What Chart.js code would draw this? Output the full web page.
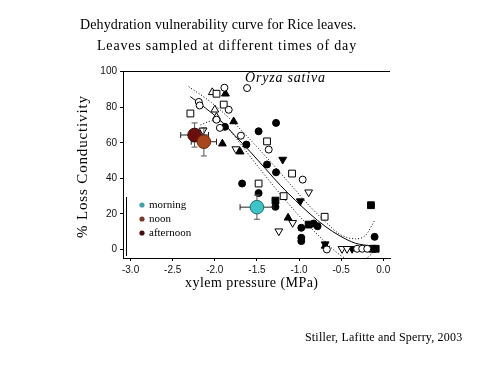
<!DOCTYPE html>
<html><head><meta charset="utf-8">
<script src="https://cdn.jsdelivr.net/npm/chart.js@4/dist/chart.umd.min.js"></script>
<style>html,body{margin:0;padding:0;background:#fff;}canvas{display:block;}</style>
</head><body>
<canvas id="c" width="501" height="366"></canvas>
<script>
// ---- data ----
const xTicks = [-3.0, -2.5, -2.0, -1.5, -1.0, -0.5, 0.0];
const yTicks = [0, 20, 40, 60, 80, 100];

const openCircleX = [-1.886, -2.19, -2.18, -1.835, -1.98, -1.94, -1.69, -1.617, -1.36, -0.957, -0.67, -0.31, -0.25, -0.19];
const openCircleY = [91, 83, 81, 78.6, 73, 68.4, 64, 90.8, 56.2, 39.3, 0, 0.4, 0.4, 0.4];
const filledCircleX = [-1.88, -1.625, -1.273, -1.48, -1.38, -1.273, -1.676, -1.48, -1.28, -0.973, -0.973, -0.973, -0.826, -0.78, -0.103];
const filledCircleY = [69, 59, 71.2, 66.5, 47.8, 43.4, 37.1, 31.7, 24, 12.2, 6.6, 4.7, 14.6, 13.1, 7.1];
const openSquareX = [-1.98, -1.894, -2.29, -1.38, -1.083, -1.48, -1.183, -0.696];
const openSquareY = [87.6, 81.5, 76.5, 60.8, 42.7, 37.1, 30, 18.4];
const filledSquareX = [-1.28, -0.886, -0.146, -0.13, -0.09];
const filledSquareY = [27.5, 14, 24.9, 0.4, 0.4];
const openTriangleX = [-2.03, -2.00, -1.98];
const openTriangleY = [88.4, 78.6, 74.5];
const filledTriangleX = [-1.874, -1.776, -1.91, -1.70, -1.13, -0.69];
const filledTriangleY = [87.6, 72, 59.5, 55, 17.8, 2];
const openDownX = [-2.14, -1.75, -0.886, -1.076, -1.24, -0.49, -0.43];
const openDownY = [67, 56.5, 32.2, 15, 10.3, 0.4, 0.4];
const filledDownX = [-1.194, -0.985, -0.37, -0.69];
const filledDownY = [50.6, 27.2, 0.4, 3];

const times = ['morning', 'noon', 'afternoon'];
const meanX = [-1.50, -2.13, -2.24];
const meanY = [23.8, 60.6, 64.4];
const errX = [0.20, 0.15, 0.165];
const errY = [6.8, 8, 6.8];

const fitX = [-2.29, -2.11, -1.93, -1.76, -1.58, -1.40, -1.22, -1.04, -0.87, -0.69, -0.51, -0.33, -0.15];
const fitY = [86, 79.5, 72.5, 64, 55, 45.5, 36, 27.5, 20, 13, 7.5, 3.5, 2];
const upperX = [-2.31, -2.05, -1.81, -1.58, -1.34, -1.10, -0.87, -0.69, -0.51, -0.33, -0.21, -0.10];
const upperY = [91.6, 83, 73, 61.8, 49.4, 36.5, 24.2, 15.7, 8.4, 6, 8, 16.5];
const lowerX = [-2.17, -2.07, -1.99, -1.90, -1.81, -1.64, -1.46, -1.22, -0.98, -0.75, -0.57, -0.45, -0.30, -0.15, -0.10];
const lowerY = [70, 72, 72.5, 71, 66.3, 56, 45, 31, 18, 7, -1, -5, -7, -3, 0];

// ---- styles ----
const timeFill = {morning: '#3cc4c6', noon: '#a8471b', afternoon: '#6a0e0e'};
const timeBorder = {morning: '#1f6f72', noon: '#6b2a0e', afternoon: '#3a0505'};
const legendDot = {morning: '#3aa5ad', noon: '#7a3a25', afternoon: '#4a0c0c'};

const pts = (xs, ys) => xs.map((x, i) => ({x, y: ys[i]}));

function markerSet(xs, ys, style, filled, radius, rot) {
  return {data: pts(xs, ys), pointStyle: style, pointRadius: radius, pointRotation: rot || 0,
    backgroundColor: filled ? '#000' : '#fff', borderColor: '#000', borderWidth: 1, showLine: false, order: 5};
}
function curveSet(xs, ys, dotted) {
  return {data: pts(xs, ys), showLine: true, pointRadius: 0, borderColor: '#000', borderWidth: 1,
    borderDash: dotted ? [1, 2] : [], cubicInterpolationMode: 'monotone', tension: 0.4, fill: false, order: 10};
}
const drawOrder = {noon: 0, afternoon: 1, morning: 2};
const summarySets = times.map((t, i) => ({
  id: t, data: [{x: meanX[i], y: meanY[i]}], pointStyle: 'circle', pointRadius: 6.8,
  backgroundColor: timeFill[t], borderColor: timeBorder[t], borderWidth: 1, showLine: false, order: drawOrder[t]
}));

const datasets = [
  ...summarySets,
  markerSet(openCircleX, openCircleY, 'circle', false, 3.5),
  markerSet(filledCircleX, filledCircleY, 'circle', true, 3.5),
  markerSet(openSquareX, openSquareY, 'rect', false, 4.8),
  markerSet(filledSquareX, filledSquareY, 'rect', true, 4.8),
  markerSet(openTriangleX, openTriangleY, 'triangle', false, 4.5),
  markerSet(filledTriangleX, filledTriangleY, 'triangle', true, 4.5),
  markerSet(openDownX, openDownY, 'triangle', false, 4.5, 180),
  markerSet(filledDownX, filledDownY, 'triangle', true, 4.5, 180),
  curveSet(fitX, fitY, false),
  curveSet(upperX, upperY, true),
  curveSet(lowerX, lowerY, true)
];

const SERIF = '"Liberation Serif", "Times New Roman", serif';

function spacedText(ctx, text, x, y, width) {
  if ('letterSpacing' in ctx) ctx.letterSpacing = '0px';
  const w = ctx.measureText(text).width;
  if ('letterSpacing' in ctx) {
    const sp = (width - w) / (text.length - 1);
    ctx.letterSpacing = sp.toFixed(2) + 'px';
    ctx.fillText(text, x, y);
    ctx.letterSpacing = '0px';
  } else {
    ctx.save(); ctx.translate(x, y); ctx.scale(width / w, 1); ctx.fillText(text, 0, 0); ctx.restore();
  }
}

const errorBars = {
  id: 'errorBars',
  beforeDatasetDraw(chart, args) {
    const ds = chart.data.datasets[args.index];
    if (ds.id !== 'morning') return;
    const {ctx, scales: {x, y}} = chart;
    ctx.save();
    ctx.lineWidth = 1;
    times.forEach((t, i) => {
      const cx = x.getPixelForValue(meanX[i]), cy = y.getPixelForValue(meanY[i]);
      const x0 = x.getPixelForValue(meanX[i] - errX[i]), x1 = x.getPixelForValue(meanX[i] + errX[i]);
      const y0 = y.getPixelForValue(meanY[i] - errY[i]), y1 = y.getPixelForValue(meanY[i] + errY[i]);
      ctx.strokeStyle = '#222';
      ctx.beginPath();
      ctx.moveTo(x0, cy); ctx.lineTo(x1, cy);
      ctx.moveTo(x0, cy - 3); ctx.lineTo(x0, cy + 3);
      ctx.moveTo(x1, cy - 3); ctx.lineTo(x1, cy + 3);
      ctx.stroke();
      ctx.strokeStyle = '#555';
      ctx.beginPath();
      ctx.moveTo(cx, y0); ctx.lineTo(cx, y1);
      ctx.moveTo(cx - 3, y0); ctx.lineTo(cx + 3, y0);
      ctx.moveTo(cx - 3, y1); ctx.lineTo(cx + 3, y1);
      ctx.stroke();
    });
    ctx.restore();
  }
};

const decorations = {
  id: 'decorations',
  afterDraw(chart) {
    const {ctx, chartArea: a} = chart;
    ctx.save();
    // top frame line
    ctx.strokeStyle = '#000'; ctx.lineWidth = 1;
    ctx.beginPath(); ctx.moveTo(a.left, a.top + 0.5); ctx.lineTo(a.right, a.top + 0.5); ctx.stroke();
    ctx.fillStyle = '#000';
    ctx.textAlign = 'left'; ctx.textBaseline = 'alphabetic';
    // titles
    ctx.font = '14px ' + SERIF;
    spacedText(ctx, 'Dehydration vulnerability curve for Rice leaves.', 80, 29, 276);
    spacedText(ctx, 'Leaves sampled at different times of day', 97, 50, 259);
    // x title
    spacedText(ctx, 'xylem pressure (MPa)', 185, 287, 133);
    // y title
    ctx.save();
    ctx.translate(87, 238); ctx.rotate(-Math.PI / 2);
    ctx.font = '15px ' + SERIF;
    spacedText(ctx, '% Loss Conductivity', 0, 0, 142);
    ctx.restore();
    // species label
    ctx.font = 'italic 14px ' + SERIF;
    spacedText(ctx, 'Oryza sativa', 245, 82, 80);
    // credit
    ctx.font = '12px ' + SERIF;
    spacedText(ctx, 'Stiller, Lafitte and Sperry, 2003', 305, 341, 157);
    // legend
    ctx.beginPath(); ctx.moveTo(a.left + 3.5, 197); ctx.lineTo(a.left + 3.5, 256); ctx.stroke();
    ctx.font = '11px ' + SERIF; ctx.textBaseline = 'middle';
    times.forEach((t, i) => {
      const ly = 205 + i * 14;
      ctx.fillStyle = legendDot[t];
      ctx.beginPath(); ctx.arc(142, ly, 2.6, 0, Math.PI * 2); ctx.fill();
      ctx.fillStyle = '#000';
      ctx.fillText(t, 149, ly);
    });
    ctx.restore();
  }
};

new Chart(document.getElementById('c'), {
  type: 'scatter',
  data: {datasets},
  options: {
    responsive: false, animation: false, events: [],
    layout: {padding: {left: 0, top: 71, right: 111, bottom: 0}},
    plugins: {legend: {display: false}, tooltip: {enabled: false}, title: {display: false}},
    scales: {
      x: {
        type: 'linear', min: -3.09, max: 0.08,
        afterFit(s) { s.height = 108; },
        afterBuildTicks(s) { s.ticks = xTicks.map(v => ({value: v})); },
        ticks: {font: {family: '"Liberation Sans", Arial, sans-serif', size: 10}, color: '#111', padding: 3,
          maxRotation: 0, autoSkip: false, callback: v => Number(v).toFixed(1)},
        grid: {drawOnChartArea: false, drawTicks: true, tickLength: 3, color: '#000'},
        border: {display: true, color: '#000', width: 1}
      },
      y: {
        type: 'linear', min: -4.8, max: 100.4,
        afterFit(s) { s.width = 123; },
        afterBuildTicks(s) { s.ticks = yTicks.map(v => ({value: v})); },
        ticks: {font: {family: '"Liberation Sans", Arial, sans-serif', size: 10}, color: '#111', padding: 3,
          autoSkip: false, callback: v => String(v)},
        grid: {drawOnChartArea: false, drawTicks: true, tickLength: 3, color: '#000'},
        border: {display: true, color: '#000', width: 1}
      }
    }
  },
  plugins: [errorBars, decorations]
});
</script>
</body></html>
